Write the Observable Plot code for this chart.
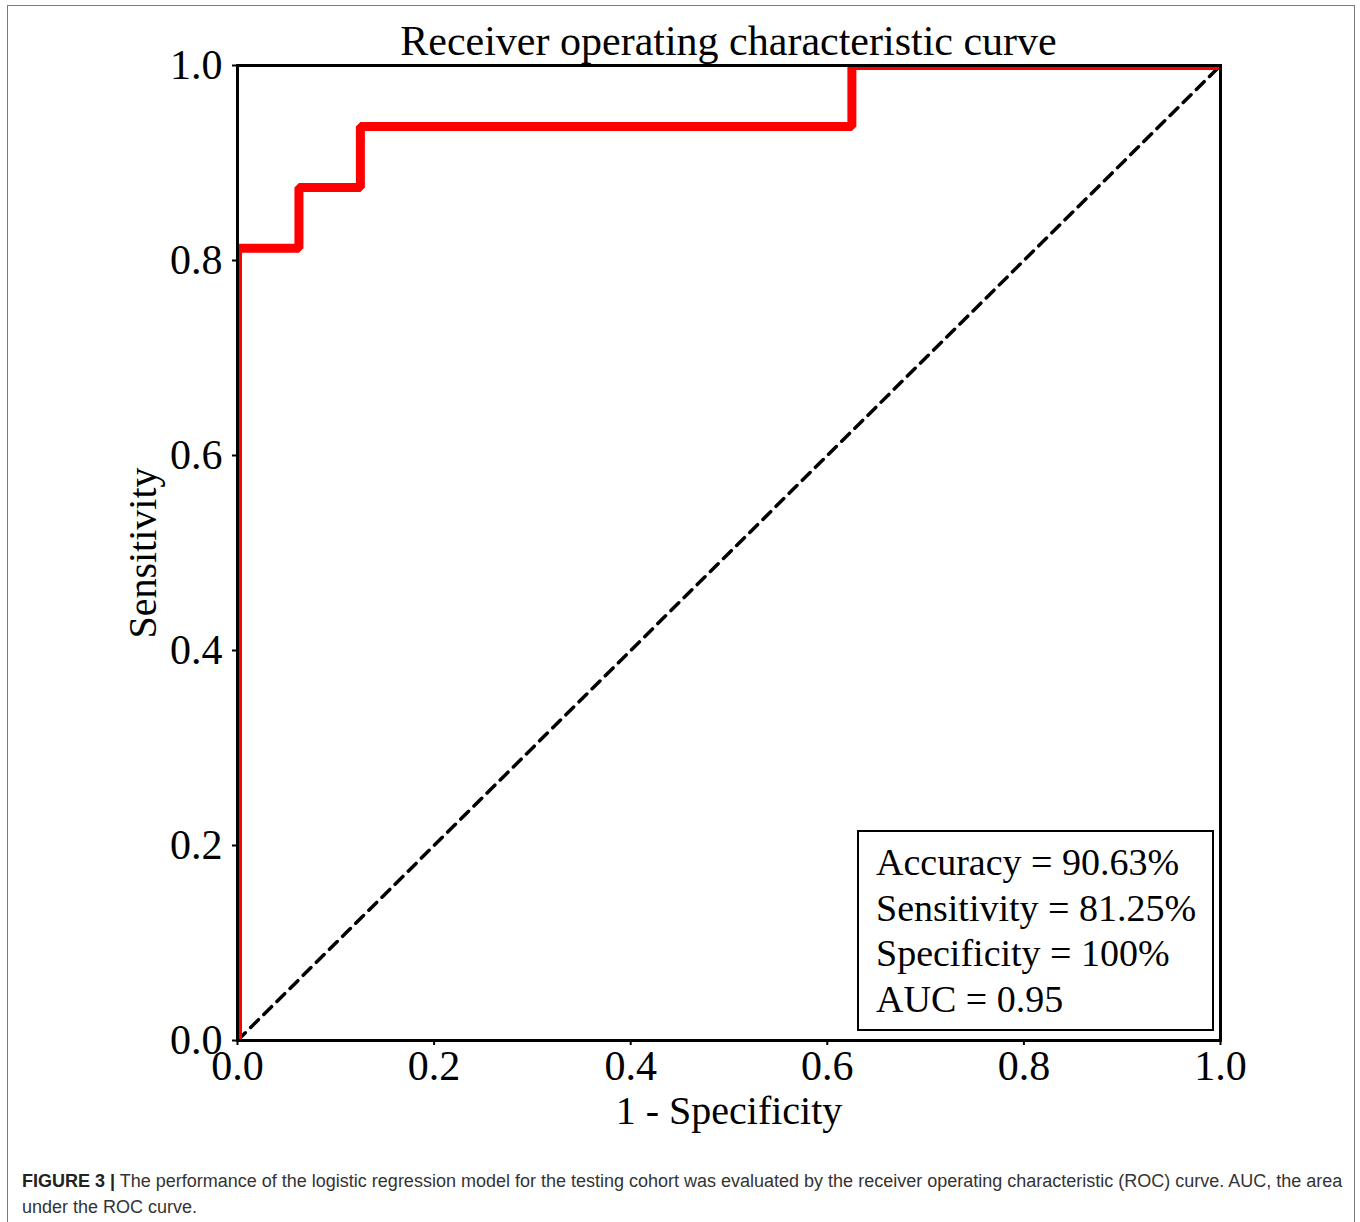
<!DOCTYPE html>
<html>
<head>
<meta charset="utf-8">
<script src="https://cdn.jsdelivr.net/npm/d3@7"></script>
<script src="https://cdn.jsdelivr.net/npm/@observablehq/plot@0.6"></script>
<style>
  html, body { margin: 0; padding: 0; background: #fff; overflow: hidden; }
  #page { position: relative; width: 1360px; height: 1222px; }
  #border { position: absolute; left: 7px; top: 5px; width: 1348px; height: 1240px; border: 1.5px solid #7a7a7a; box-sizing: border-box; }
  #title { position: absolute; left: 0; top: 20px; width: 1457px; text-align: center; font: 42px "Liberation Serif", serif; line-height: 42px; color: #000; white-space: nowrap; }
  #chart { position: absolute; left: 0; top: 0; }
  #stats { position: absolute; left: 857px; top: 830px; width: 357px; height: 201px; box-sizing: border-box; border: 2.5px solid #000; padding: 8px 0 0 17px; font: 38px "Liberation Serif", serif; line-height: 45.5px; color: #000; white-space: nowrap; background: #fff; }
  #caption { position: absolute; left: 22px; top: 1168px; width: 1330px; font: 18px "Liberation Sans", Arial, sans-serif; line-height: 26px; color: #333; white-space: nowrap; }
  #caption b { color: #222; }
</style>
</head>
<body>
<div id="page">
  <div id="border"></div>
  <div id="chart"></div>
  <div id="title">Receiver operating characteristic curve</div>
  <div id="stats"></div>
  <div id="caption"><b>FIGURE 3 |</b> The performance of the logistic regression model for the testing cohort was evaluated by the receiver operating characteristic (ROC) curve. AUC, the area<br>under the ROC curve.</div>
</div>
<script>
// ROC curve (testing cohort): false positive rate vs true positive rate
const fpr = [0, 0, 0.0625, 0.0625, 0.125, 0.125, 0.625, 0.625, 1];
const tpr = [0, 0.8125, 0.8125, 0.875, 0.875, 0.9375, 0.9375, 1, 1];
// chance diagonal
const chanceX = [0, 1];
const chanceY = [0, 1];
// tick values
const ticks = [0, 0.2, 0.4, 0.6, 0.8, 1.0];
// summary statistics
const statLabels = ["Accuracy", "Sensitivity", "Specificity", "AUC"];
const statValues = ["90.63%", "81.25%", "100%", "0.95"];
const xLabel = "1 - Specificity";
const yLabel = "Sensitivity";

const roc = fpr.map((x, i) => ({x, y: tpr[i]}));
const chance = chanceX.map((x, i) => ({x, y: chanceY[i]}));

const chart = Plot.plot({
  width: 1360,
  height: 1140,
  marginLeft: 237,
  marginRight: 140,
  marginTop: 65,
  marginBottom: 100,
  style: {fontFamily: "'Liberation Serif', serif", color: "#000", background: "transparent"},
  x: {domain: [0, 1]},
  y: {domain: [0, 1]},
  marks: [
    Plot.line(chance, {x: "x", y: "y", stroke: "#000", strokeWidth: 3.5, strokeDasharray: "11,7.5", clip: true}),
    Plot.line(roc, {x: "x", y: "y", stroke: "#ff0000", strokeWidth: 9, strokeLinejoin: "miter", strokeLinecap: "butt", clip: true}),
    Plot.frame({stroke: "#000", strokeWidth: 3}),
    Plot.axisX({ticks, tickFormat: d => d.toFixed(1), tickSize: 5, tickPadding: 5, fontSize: 42, strokeWidth: 2, label: null}),
    Plot.axisY({ticks, tickFormat: d => d.toFixed(1), tickSize: 5, tickPadding: 10, fontSize: 42, strokeWidth: 2, label: null}),
    Plot.text([xLabel], {frameAnchor: "bottom", dy: 83, fontSize: 40, lineAnchor: "bottom", fill: "#000"}),
    Plot.text([yLabel], {frameAnchor: "left", dx: -82, rotate: -90, textAnchor: "middle", fontSize: 40, lineAnchor: "bottom", fill: "#000"})
  ]
});
document.getElementById("chart").appendChild(chart);

document.getElementById("stats").innerHTML =
  statLabels.map((l, i) => `${l} = ${statValues[i]}`).join("<br>");
</script>
</body>
</html>
